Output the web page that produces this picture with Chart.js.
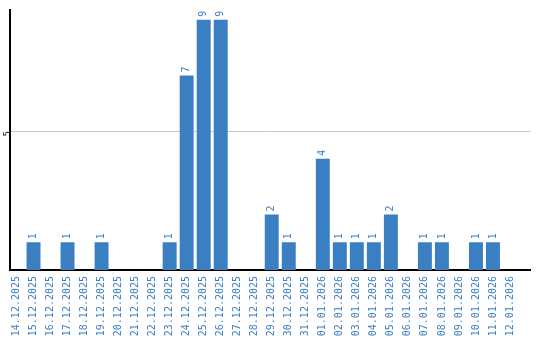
<!DOCTYPE html>
<html>
<head>
<meta charset="utf-8">
<script src="https://cdn.jsdelivr.net/npm/chart.js@4/dist/chart.umd.min.js"></script>
<style>
html,body{margin:0;padding:0;background:#fff;}
canvas{display:block;}
</style>
</head>
<body>
<canvas id="c" width="540" height="340"></canvas>
<script>
const labels = ["14.12.2025","15.12.2025","16.12.2025","17.12.2025","18.12.2025","19.12.2025","20.12.2025","21.12.2025","22.12.2025","23.12.2025","24.12.2025","25.12.2025","26.12.2025","27.12.2025","28.12.2025","29.12.2025","30.12.2025","31.12.2025","01.01.2026","02.01.2026","03.01.2026","04.01.2026","05.01.2026","06.01.2026","07.01.2026","08.01.2026","09.01.2026","10.01.2026","11.01.2026","12.01.2026"];
const values = [0,1,0,1,0,1,0,0,0,1,7,9,9,0,0,2,1,0,4,1,1,1,2,0,1,1,0,1,1,0];
const yTicks = [5];

const BLUE = '#3a7fc1';
const FONT = '"DejaVu Sans Mono", "Liberation Mono", monospace';

const valueLabels = {
  id: 'valueLabels',
  afterDatasetsDraw(chart) {
    const ctx = chart.ctx;
    const meta = chart.getDatasetMeta(0);
    ctx.save();
    ctx.fillStyle = BLUE;
    ctx.font = '10px ' + FONT;
    meta.data.forEach((bar, i) => {
      const v = values[i];
      if (!v) return;
      ctx.save();
      ctx.translate(bar.x, bar.y - 3);
      ctx.rotate(-Math.PI / 2);
      ctx.textAlign = 'left';
      ctx.textBaseline = 'middle';
      ctx.fillText(String(v), 0, 0);
      ctx.restore();
    });
    ctx.restore();
  }
};

new Chart(document.getElementById('c'), {
  type: 'bar',
  data: {
    datasets: [{
      data: values.map((v, i) => ({x: i, y: v})),
      backgroundColor: BLUE,
      borderWidth: 0,
      categoryPercentage: 1,
      barPercentage: 0.82
    }]
  },
  options: {
    responsive: false,
    animation: false,
    layout: {padding: {top: 10, right: 9.5, left: 0, bottom: 0}},
    plugins: {legend: {display: false}, tooltip: {enabled: false}},
    scales: {
      x: {
        type: 'linear',
        offset: false,
        min: -0.382,
        max: 30.206,
        afterBuildTicks: s => { s.ticks = labels.map((_, i) => ({value: i})); },
        afterFit: s => { s.height = 70; s.paddingLeft = 0; s.paddingRight = 0; },
        ticks: {
          autoSkip: false,
          includeBounds: false,
          minRotation: 90,
          maxRotation: 90,
          padding: 6,
          color: BLUE,
          font: {family: FONT, size: 10},
          callback: v => labels[v] !== undefined ? labels[v] : ''
        },
        grid: {display: false, drawTicks: false, offset: false},
        border: {color: '#000', width: 2}
      },
      y: {
        type: 'linear',
        min: 0,
        max: 9.353,
        afterBuildTicks: s => { s.ticks = yTicks.map(v => ({value: v})); },
        afterFit: s => { s.width = 10; s.paddingTop = 0; s.paddingBottom = 0; },
        ticks: {
          minRotation: 90,
          maxRotation: 90,
          padding: 2,
          color: '#000',
          font: {family: FONT, size: 9}
        },
        grid: {color: '#c8c8c8', drawTicks: false},
        border: {color: '#000', width: 2}
      }
    }
  },
  plugins: [valueLabels]
});
</script>
</body>
</html>
